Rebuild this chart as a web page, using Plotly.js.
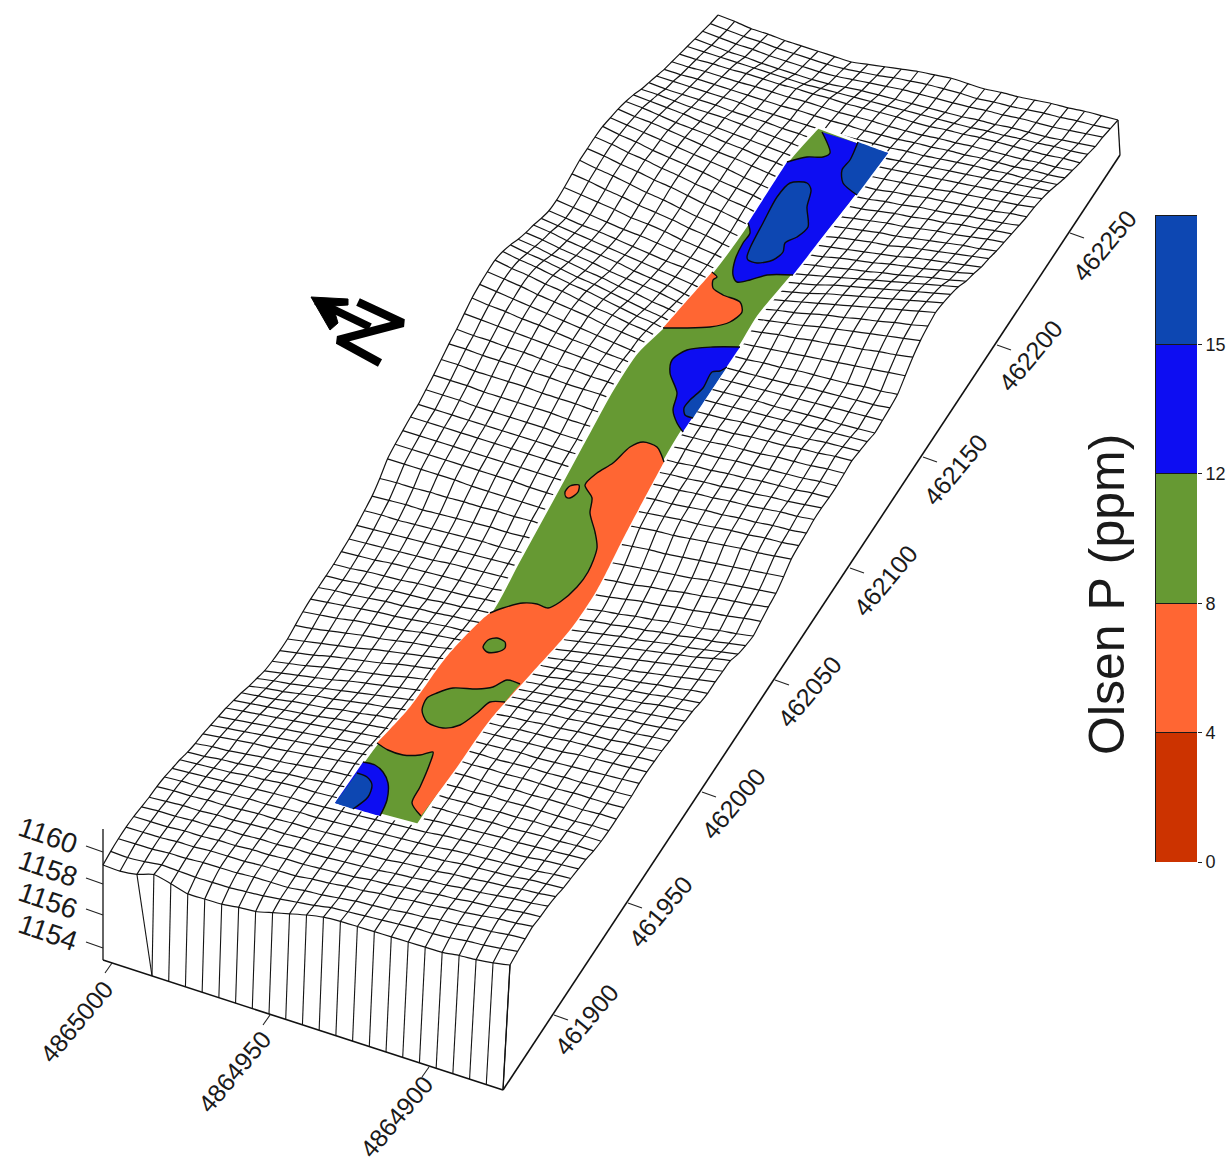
<!DOCTYPE html>
<html><head><meta charset="utf-8">
<script src="https://cdn.plot.ly/plotly-3.0.1.min.js"></script>
<style>html,body{margin:0;padding:0;background:#fff}#chart{width:1232px;height:1165px}</style>
</head><body><div id="chart"></div>
<script>
// Surface outline corners: front-left, front-right, back-right, back-left
const cornerFrontLeft=[103,865], cornerFrontRight=[510,965], cornerBackRight=[1118,120], cornerBackLeft=[718,15];
// Surface relief per mesh node (81 rows run front to back, 25 nodes across)
const surfaceRelief=[
[0,-2,-1,3,-2,-8,-9,-10,-9,-9,-6,-3,0,2,2,1,0,-1,-2,-3,-4,-3,-3,-2,0],
[3,1,1,2,0,-2,-3,-4,-4,-4,-3,-2,-1,1,1,1,1,1,1,0,0,1,1,2,3],
[5,4,3,3,2,2,1,0,0,-1,-2,-1,-1,0,1,1,1,2,2,3,3,4,4,5,5],
[6,5,4,4,3,3,2,1,1,0,-1,0,0,1,1,2,2,3,3,4,4,5,6,6,7],
[6,5,4,4,3,3,2,2,1,1,0,0,0,0,1,1,2,2,3,3,4,4,5,6,6],
[5,5,4,4,3,3,2,2,1,1,0,0,0,0,0,1,1,2,2,3,3,4,5,5,6],
[4,4,4,3,3,2,2,2,1,1,0,0,0,0,0,1,1,1,2,2,3,3,4,4,5],
[4,4,3,3,2,2,2,1,1,0,0,0,0,0,0,0,1,1,2,2,2,2,3,3,3],
[3,3,2,2,2,2,1,1,1,0,0,0,0,0,0,0,0,1,1,1,1,1,1,2,2],
[1,1,1,1,1,1,1,1,0,0,0,0,0,0,0,0,1,1,1,1,0,0,1,1,1],
[-1,-1,-1,-1,0,0,1,1,0,0,0,0,0,0,0,1,1,1,1,1,0,0,0,0,0],
[-4,-4,-3,-3,-2,-2,-1,-1,0,0,1,1,1,2,2,2,1,1,1,0,0,0,-1,-1,-2],
[-6,-5,-5,-4,-3,-3,-2,-1,0,0,1,2,2,2,3,2,2,1,1,0,0,-1,-1,-2,-3],
[-7,-6,-5,-4,-4,-3,-2,-1,0,1,2,2,3,3,3,3,2,2,1,1,0,-1,-2,-2,-3],
[-9,-8,-7,-6,-5,-4,-3,-2,-1,0,1,2,2,3,4,4,3,2,2,1,1,0,-1,-1,-2],
[-11,-10,-9,-8,-7,-6,-5,-4,-3,-2,-1,0,1,3,5,4,4,3,3,2,1,1,0,-1,-1],
[-13,-12,-11,-10,-9,-8,-7,-6,-5,-4,-3,-1,0,2,4,4,3,3,3,2,2,1,1,0,0],
[-16,-15,-14,-13,-12,-11,-9,-8,-7,-6,-4,-3,-1,1,3,3,3,3,2,2,2,2,2,2,2],
[-19,-18,-17,-15,-14,-13,-11,-10,-8,-7,-5,-4,-2,0,2,2,2,2,2,2,3,3,3,3,3],
[-23,-21,-20,-18,-16,-15,-13,-11,-10,-8,-7,-5,-3,-1,0,0,1,1,1,2,2,2,2,3,3],
[-26,-24,-23,-21,-19,-17,-15,-13,-11,-9,-7,-6,-5,-3,-2,-1,-1,0,0,1,1,1,2,2,3],
[-29,-27,-25,-23,-21,-18,-16,-14,-12,-10,-8,-7,-6,-5,-3,-2,-2,-1,-1,0,0,1,1,2,2],
[-30,-28,-26,-23,-21,-19,-17,-15,-12,-10,-8,-8,-7,-7,-6,-5,-4,-3,-3,-2,-1,0,0,1,2],
[-30,-28,-26,-23,-21,-19,-17,-14,-12,-10,-8,-8,-9,-9,-9,-8,-7,-6,-5,-4,-3,-2,-1,0,1],
[-29,-27,-25,-23,-21,-18,-16,-14,-12,-10,-8,-9,-10,-11,-12,-11,-10,-8,-7,-6,-5,-4,-2,-1,0],
[-26,-25,-23,-21,-19,-18,-16,-14,-13,-11,-9,-11,-12,-14,-15,-14,-12,-11,-10,-8,-7,-6,-4,-3,-2],
[-23,-22,-21,-19,-18,-17,-16,-14,-13,-12,-11,-13,-14,-16,-17,-16,-15,-13,-11,-10,-9,-7,-6,-4,-3],
[-21,-20,-19,-18,-17,-17,-16,-15,-14,-14,-13,-15,-17,-19,-20,-18,-16,-15,-13,-12,-10,-8,-6,-4,-2],
[-20,-19,-19,-18,-17,-17,-16,-16,-15,-15,-14,-16,-18,-20,-22,-20,-18,-16,-14,-12,-10,-8,-6,-4,-2],
[-19,-19,-18,-18,-17,-17,-17,-16,-16,-15,-15,-17,-19,-21,-23,-21,-19,-17,-15,-13,-11,-9,-7,-4,-2],
[-18,-18,-17,-17,-17,-16,-16,-16,-16,-15,-15,-17,-19,-22,-24,-22,-20,-18,-17,-15,-13,-12,-10,-8,-6],
[-16,-16,-16,-15,-15,-15,-15,-15,-15,-15,-14,-17,-20,-22,-24,-22,-21,-19,-18,-16,-15,-13,-12,-10,-8],
[-14,-14,-14,-14,-14,-14,-13,-13,-13,-13,-13,-16,-19,-21,-24,-22,-21,-19,-18,-16,-15,-14,-12,-11,-9],
[-11,-11,-11,-11,-11,-11,-11,-11,-11,-11,-11,-13,-16,-18,-20,-19,-17,-15,-14,-12,-11,-9,-8,-6,-5],
[-7,-7,-8,-8,-8,-8,-8,-8,-9,-9,-9,-10,-12,-14,-15,-14,-13,-11,-10,-8,-7,-5,-4,-3,-1],
[-3,-3,-3,-4,-4,-4,-4,-4,-5,-5,-5,-6,-7,-8,-9,-8,-7,-6,-5,-4,-2,-1,0,1,2],
[4,4,3,3,2,2,1,1,0,0,-1,-1,-1,-1,-1,0,1,1,2,3,4,5,6,7,8],
[13,12,11,10,9,7,6,5,4,3,2,3,4,5,7,8,9,9,10,11,12,13,13,14,15],
[17,16,15,14,13,12,11,10,8,7,6,7,8,10,11,12,13,14,14,15,16,16,17,17,18],
[20,19,18,17,16,15,14,13,12,11,10,11,12,13,14,15,15,16,17,17,18,18,19,19,20],
[23,22,21,20,19,18,17,16,15,14,13,14,15,16,17,18,18,19,19,20,20,21,22,22,23],
[25,24,23,22,21,20,19,18,17,16,15,16,16,17,18,19,19,20,20,21,21,22,22,23,24],
[29,28,27,25,24,23,22,21,19,18,17,18,18,19,20,20,21,21,22,22,23,23,23,24,24],
[33,32,31,29,28,27,26,25,23,22,21,21,22,22,22,23,23,23,24,24,24,24,24,25,25],
[38,37,35,34,33,32,30,29,28,26,25,25,24,24,24,24,24,25,25,25,26,26,26,27,27],
[43,42,40,39,38,36,35,33,32,31,29,28,27,26,25,25,26,26,27,27,27,28,28,29,29],
[47,45,44,42,41,39,37,36,34,33,31,30,28,27,26,26,26,27,27,27,27,27,28,28,28],
[52,50,48,46,44,42,40,38,36,34,32,30,29,28,27,27,27,27,27,27,27,27,27,27,27],
[57,54,52,49,47,44,41,39,36,34,31,30,29,28,27,27,27,27,26,26,26,26,25,25,25],
[60,57,54,51,48,45,42,39,36,33,30,30,29,28,27,27,27,27,27,27,27,27,27,27,27],
[62,59,56,52,49,46,43,39,36,33,30,29,29,28,27,27,27,27,27,28,28,28,28,28,29],
[63,59,56,52,49,45,41,38,34,31,27,27,27,28,28,28,29,29,30,30,30,30,31,31,32],
[61,57,54,50,46,43,39,35,31,28,24,26,27,28,30,31,32,33,34,35,36,37,38,39,40],
[57,53,50,46,42,39,35,31,27,24,20,23,26,29,32,34,36,37,39,40,42,43,45,46,48],
[52,49,45,42,38,35,31,28,24,21,17,21,25,29,33,35,37,39,42,44,46,48,50,52,54],
[48,45,41,38,35,31,28,25,22,18,15,19,23,28,32,35,37,40,43,45,48,50,53,55,58],
[45,42,38,35,32,29,25,22,19,15,12,17,21,26,31,34,37,40,43,46,49,52,55,58,61],
[41,38,35,32,29,26,23,20,17,14,11,16,20,25,29,32,35,39,42,45,48,51,54,57,60],
[38,35,32,30,27,24,21,18,16,13,10,15,19,23,27,30,33,37,40,43,46,49,52,55,58],
[38,35,32,29,26,24,21,18,15,12,9,13,17,21,25,28,31,34,37,40,43,46,49,52,55],
[40,37,34,31,27,25,22,18,15,12,9,13,16,20,24,27,29,32,34,37,39,42,45,47,50],
[43,40,36,33,29,26,23,19,16,12,9,13,16,20,23,25,28,30,32,35,37,39,42,44,47],
[46,42,39,35,31,28,24,20,17,13,10,13,16,18,22,24,26,28,30,32,35,37,39,41,43],
[47,44,40,37,33,30,26,22,19,15,11,14,16,18,20,23,25,27,28,31,33,35,37,39,41],
[48,45,41,38,34,31,27,24,20,17,13,15,17,18,20,22,24,26,27,29,31,33,35,36,38],
[48,44,41,37,34,31,28,24,21,18,14,15,17,18,19,21,23,25,26,28,30,31,33,35,36],
[46,43,40,37,34,31,28,25,21,18,15,16,17,18,19,20,22,24,25,27,28,30,31,33,34],
[44,41,39,36,33,30,27,25,22,19,16,17,17,18,18,19,21,22,24,25,26,28,29,30,32],
[41,39,36,33,31,29,26,24,21,19,16,16,17,17,18,18,20,21,23,24,25,26,27,29,30],
[37,35,33,31,28,26,24,22,20,18,16,16,16,17,17,18,19,20,21,23,24,25,26,27,29],
[32,31,29,27,26,25,23,21,19,17,15,15,15,16,16,17,18,19,20,21,22,23,24,25,27],
[28,26,25,24,23,21,20,19,17,16,14,14,14,14,14,15,16,17,18,19,20,21,22,23,24],
[24,23,22,21,20,19,17,16,15,14,13,13,13,13,13,14,14,15,16,17,17,18,18,19,20],
[20,19,19,18,17,16,15,14,14,13,12,12,11,11,11,12,12,13,13,14,14,14,15,15,16],
[17,16,16,15,14,14,13,12,12,11,10,10,10,9,9,9,10,10,11,11,11,11,12,12,13],
[14,13,13,12,12,11,10,10,9,9,8,8,8,8,7,7,8,8,9,9,9,9,9,10,10],
[11,10,9,8,7,6,5,4,4,4,4,4,4,4,4,4,4,4,5,5,6,6,7,7,8],
[8,6,4,3,1,0,-1,-2,-2,-1,0,0,0,0,0,0,0,1,1,2,2,2,3,4,5],
[5,3,1,0,-2,-3,-4,-5,-5,-4,-3,-2,-1,-1,-1,-1,-1,0,0,1,1,1,2,3,4],
[2,0,-2,-3,-5,-6,-7,-8,-8,-7,-6,-4,-3,-2,-2,-2,-3,-2,-2,-1,0,0,1,1,2],
[0,-2,-5,-6,-8,-9,-10,-11,-12,-10,-8,-6,-4,-3,-2,-3,-4,-3,-3,-2,-1,-1,0,0,0]
];
// Box lines
const baseFrontX=[103,503], baseFrontY=[960,1090];
const baseRightX=[503,1120], baseRightY=[1090,155];
const verticalAxisX=[103,103], verticalAxisY=[829,960];
const backCornerX=[1118,1120], backCornerY=[120,155];
const frontWallX=[510,503], frontWallY=[965,1090];
const skirtFootStart=[152,976];
// Strip outline and Olsen P zones
const stripOutline=[[335,803],[363,762],[377,743],[410,707],[448,655],[490,613],[518,562],[552,500],[571,465],[590,430],[612,390],[637,352],[665,325],[712,272],[748,223],[787,162],[818,127],[888,153],[857,195],[793,275],[758,317],[740,347],[683,430],[664,462],[625,535],[597,590],[570,630],[530,675],[490,720],[455,770],[418,825]];
const stripCorners=[[335,803],[818,127],[888,153],[418,825]];
const orangeLowerBoundary=[[377,743],[388,750],[403,755],[420,755],[433,752],[430,763],[420,787],[412,803],[421,816]];
const orangeUpperBoundary=[[490,613],[503,608],[523,603],[537,604],[548,608],[560,602],[577,587],[588,572],[597,548],[595,532],[590,513],[592,498],[585,485],[597,473],[613,463],[630,447],[643,442],[657,447],[664,462]];
const orangeLeftEdge=[[410,707],[448,655]];
const orangeRightEdge=[[625,535],[597,590],[570,630],[530,675],[490,720],[455,770]];
const greenIslandLarge=[[520,684],[507,680],[493,687],[477,689],[453,688],[437,693],[427,698],[422,710],[427,722],[443,728],[460,725],[477,713],[490,702],[505,702]];
const greenIslandSmall=[[483,647],[488,640],[497,638],[505,642],[505,648],[497,652],[487,652],[483,647]];
const orangeIslandSmall=[[565,492],[570,486],[579,485],[578,492],[570,498],[566,497],[565,492]];
const orangeUpperZone=[[663,328],[683,328],[710,327],[730,322],[742,312],[740,302],[723,295],[713,288],[713,280],[717,277],[712,272]];
const blueBottomZone=[[363,762],[375,765],[383,772],[388,783],[387,800],[380,816]];
const deepBlueBottomZone=[[357,773],[367,777],[372,785],[368,797],[353,809]];
const bottomCorner=[[335,803]];
const blueMidZone=[[740,347],[713,347],[687,350],[672,360],[670,373],[677,393],[673,410],[677,423],[683,432]];
const deepBlueMidZone=[[727,367],[720,371],[712,372],[703,388],[690,400],[684,408],[685,415],[693,418]];
const blueTopBoundary=[[748,223],[750,233],[743,243],[735,260],[733,275],[737,282],[750,280],[767,275],[793,275]];
const greenTopBoundary=[[787,162],[807,157],[823,157],[830,153],[822,132]];
const blueTopRim=[[888,153]];
const blueTopLeftEdge=[[748,223],[787,162]];
const deepBlueTopLarge=[[747,257],[750,248],[763,223],[777,197],[790,183],[807,183],[811,190],[807,207],[808,227],[797,237],[785,243],[783,252],[773,260],[757,263],[748,260],[747,257]];
const deepBlueTopCorner=[[858,142],[850,160],[842,170],[843,183],[857,195]];
// Colour key
const keyValues=[1,1,1,1,1];
const keyColours=['#CC3300','#FF6633','#669933','#0D0DF2','#0D47B2'];
const keyTickText=['0','4','8','12','15'];
const keyTitle='Olsen P (ppm)';
// Tick labels
const elevationLabels=['1160','1158','1156','1154'];
const elevationTickY=[852,884,915,948];
const elevationLabelX=[48,48,48,48], elevationLabelY=[835,868,900,932];
const northingLabels=['4865000','4864950','4864900'];
const northingTickX=[112,270,429], northingTickY=[963,1015,1067];
const northingLabelX=[76,234,396], northingLabelY=[1022,1072,1117];
const eastingLabels=['461900','461950','462000','462050','462100','462150','462200','462250'];
const eastingTickX=[554,628,702,775,850,923,997,1070], eastingTickY=[1015,903,792,680,568,457,345,233];
const eastingLabelX=[586,660,733,809,885,955,1030,1104], eastingLabelY=[1020,912,804,692,581,470,356,246];
// North arrow strokes
const arrowShaftX=[316,370], arrowShaftY=[301,327];
const arrowHeadTip=[[311,297],[348,299],[348,305],[333,306],[338,323],[330,330]];
const northX=[358,403,338,380], northY=[302,323,340,363];

const rows=surfaceRelief.length, cols=surfaceRelief[0].length;
function nodeX(r,j){const u=j/(cols-1),t=r/(rows-1);
  const a=cornerFrontLeft[0]+(cornerFrontRight[0]-cornerFrontLeft[0])*u;
  const b=cornerBackLeft[0]+(cornerBackRight[0]-cornerBackLeft[0])*u;
  return a+(b-a)*t;}
function nodeY(r,j){const u=j/(cols-1),t=r/(rows-1);
  const a=cornerFrontLeft[1]+(cornerFrontRight[1]-cornerFrontLeft[1])*u;
  const b=cornerBackLeft[1]+(cornerBackRight[1]-cornerBackLeft[1])*u;
  return a+(b-a)*t-surfaceRelief[r][j];}
const meshX=[],meshY=[];
for(let r=0;r<rows;r++){for(let j=0;j<cols;j++){meshX.push(nodeX(r,j));meshY.push(nodeY(r,j));}meshX.push(null);meshY.push(null);}
for(let j=0;j<cols;j++){for(let r=0;r<rows;r++){meshX.push(nodeX(r,j));meshY.push(nodeY(r,j));}meshX.push(null);meshY.push(null);}
const skirtX=[],skirtY=[];
const footStep=(baseRightX[0]-skirtFootStart[0])/(cols-1-3);
for(let j=2;j<cols;j++){const k=Math.max(j-3,0);
  const fx=skirtFootStart[0]+footStep*k;
  const fy=skirtFootStart[1]+(baseFrontY[1]-skirtFootStart[1])*k/(cols-1-3);
  skirtX.push(nodeX(0,j),fx,null);skirtY.push(nodeY(0,j),fy,null);}

const xs=a=>a.map(p=>p[0]), ys=a=>a.map(p=>p[1]);
const BLACK='#111', INK='#222';
function line(x,y,w,c,smooth){return {type:'scatter',mode:'lines',x,y,xaxis:'x',yaxis:'y',line:{color:c||BLACK,width:w||1,shape:smooth?'spline':'linear',smoothing:smooth||0},hoverinfo:'skip',showlegend:false};}
// keeps a spline crisp at the listed corners by adding a close neighbour on each side
function sharpen(pts,corners){const out=[],n=pts.length;
  pts.forEach((p,i)=>{
    if(!corners.some(c=>c[0]===p[0]&&c[1]===p[1])){out.push(p);return;}
    const toward=q=>{const dx=q[0]-p[0],dy=q[1]-p[1],d=Math.hypot(dx,dy)||1;return [p[0]+dx/d*1.5,p[1]+dy/d*1.5];};
    out.push(toward(pts[(i-1+n)%n]),p,toward(pts[(i+1)%n]));});
  return out;}
function poly(pts,c,corners,ow,oc){const q=corners?sharpen(pts,corners):pts;return {type:'scatter',mode:'lines',x:xs(q).concat(q[0][0]),y:ys(q).concat(q[0][1]),xaxis:'x',yaxis:'y',fill:'toself',fillcolor:c,line:{color:oc||c,width:ow===undefined?0:ow,shape:'spline',smoothing:0.8},hoverinfo:'skip',showlegend:false};}
function contour(pts){return line(xs(pts),ys(pts),1.4,'#0b0b0b',0.8);}
function solid(pts,c){return {type:'scatter',mode:'lines',x:xs(pts).concat(pts[0][0]),y:ys(pts).concat(pts[0][1]),xaxis:'x',yaxis:'y',fill:'toself',fillcolor:c,line:{color:c,width:1},hoverinfo:'skip',showlegend:false};}

const orangeLower=[].concat([[377,743]],orangeLeftEdge,orangeUpperBoundary,orangeRightEdge,orangeLowerBoundary.slice().reverse().slice(0,-1));
const blueTopPoly=[].concat(blueTopBoundary,blueTopRim,greenTopBoundary.slice().reverse(),blueTopLeftEdge.slice(1).reverse());
const deepBlueCorner=deepBlueTopCorner.concat(blueTopRim);
const ends=a=>[a[0],a[a.length-1]];
const G=keyColours[2],O=keyColours[1],B=keyColours[3],D=keyColours[4];

const traces=[
 line(meshX,meshY,1.2,'#141414',0.5),
 line(skirtX,skirtY,1.1,'#141414'),
 line(frontWallX,frontWallY,1.3),
 line(baseFrontX,baseFrontY,1.6),
 line(baseRightX,baseRightY,1.6),
 line(verticalAxisX,verticalAxisY,1.3),
 line(backCornerX,backCornerY,1.3),
 poly(stripOutline,G,stripCorners,3,'#ffffff'),
 poly(orangeLower,O,[[377,743],[664,462],[421,816]]),
 poly(greenIslandLarge,G,ends(greenIslandLarge)),
 poly(greenIslandSmall,G),
 poly(orangeIslandSmall,O),
 poly(orangeUpperZone,O,ends(orangeUpperZone)),
 poly(bottomCorner.concat(blueBottomZone),B,bottomCorner.concat(ends(blueBottomZone))),
 poly(bottomCorner.concat(deepBlueBottomZone),D,bottomCorner.concat(ends(deepBlueBottomZone))),
 poly(blueMidZone,B,ends(blueMidZone)),
 poly(deepBlueMidZone,D,ends(deepBlueMidZone)),
 poly(blueTopPoly,B,[[748,223],[793,275],[888,153],[822,132],[787,162]]),
 poly(deepBlueTopLarge,D),
 poly(deepBlueCorner,D,ends(deepBlueCorner).concat([[857,195]])),
 contour(orangeLowerBoundary),contour(orangeUpperBoundary),contour(greenIslandLarge),contour(greenIslandSmall),contour(orangeIslandSmall),
 contour(orangeUpperZone),contour(blueBottomZone),contour(deepBlueBottomZone),contour(blueMidZone),contour(deepBlueMidZone),
 contour(blueTopBoundary),contour(greenTopBoundary),contour(deepBlueTopLarge),contour(deepBlueTopCorner),
 line(arrowShaftX,arrowShaftY,8,'#000'),
 solid(arrowHeadTip,'#000'),
 line(northX,northY,8.5,'#000')
];
// axis ticks
elevationTickY.forEach(y=>traces.push(line([103,86],[y,y-6],1.1,INK)));
northingTickX.forEach((x,i)=>traces.push(line([x,x-7],[northingTickY[i],northingTickY[i]+10],1.1,INK)));
eastingTickX.forEach((x,i)=>traces.push(line([x,x+14],[eastingTickY[i],eastingTickY[i]+5],1.1,INK)));
// colour key as stacked bars
keyValues.forEach((v,i)=>traces.push({type:'bar',x:['key'],y:[v],xaxis:'x2',yaxis:'y2',marker:{color:keyColours[i],line:{color:'#1a1a1a',width:1}},hoverinfo:'skip',showlegend:false}));

const TEXT={family:'"Liberation Sans", Arial, sans-serif',color:'#1a1a1a'};
const annotations=[];
function label(text,x,y,angle,size){annotations.push({text,x,y,xref:'x',yref:'y',showarrow:false,textangle:angle,xanchor:'center',yanchor:'middle',font:{...TEXT,size}});}
elevationLabels.forEach((t,i)=>label(t,elevationLabelX[i],elevationLabelY[i],19,28));
northingLabels.forEach((t,i)=>label(t,northingLabelX[i],northingLabelY[i],-50,25));
eastingLabels.forEach((t,i)=>label(t,eastingLabelX[i],eastingLabelY[i],-50,25));
label(keyTitle,1107,595,-90,50);

const W=1232,H=1165;
Plotly.newPlot('chart',traces,{
 width:W,height:H,margin:{l:0,r:0,t:0,b:0},paper_bgcolor:'#fff',plot_bgcolor:'rgba(0,0,0,0)',
 showlegend:false,barmode:'stack',bargap:0,hovermode:false,
 xaxis:{domain:[0,1],range:[0,W],visible:false,fixedrange:true},
 yaxis:{domain:[0,1],range:[H,0],visible:false,fixedrange:true},
 xaxis2:{domain:[1155/W,1197/W],anchor:'y2',visible:false,type:'category',fixedrange:true},
 yaxis2:{domain:[(H-862)/H,(H-215)/H],anchor:'x2',side:'right',range:[0,5],tickmode:'array',tickvals:[0,1,2,3,4],ticktext:keyTickText,ticks:'outside',ticklen:4,tickcolor:'#222',showgrid:false,zeroline:false,showline:false,tickfont:{...TEXT,size:18},fixedrange:true},
 annotations
},{displayModeBar:false,staticPlot:true});
</script></body></html>
